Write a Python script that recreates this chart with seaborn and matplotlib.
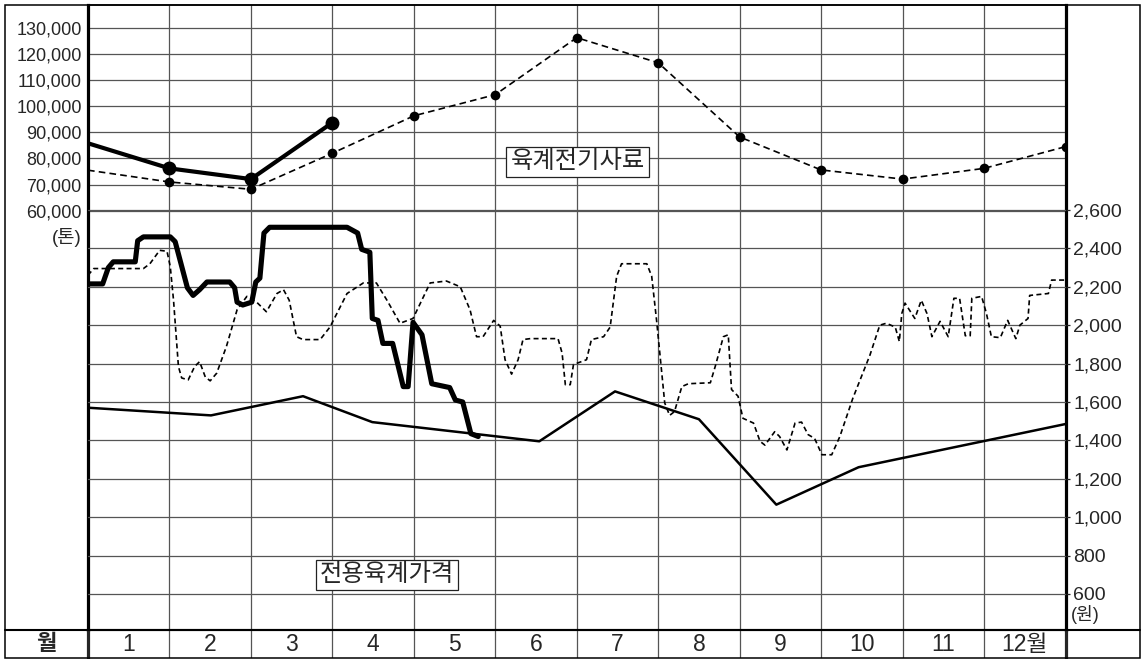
import numpy as np
import pandas as pd
import matplotlib.pyplot as plt
from matplotlib.patches import Rectangle
from matplotlib.lines import Line2D
import seaborn as sns

sns.set_style("white")
plt.rcParams["font.family"] = ["Liberation Sans", "Noto Sans CJK KR"]

# 육계전기사료 (톤) - month boundaries 0..12
feed_x = list(range(13))
feed_prev = [75500, 71000, 68200, 82000, 96300, 104400, 126200, 116600,
             88200, 75600, 72100, 76200, 84500]
feed_cur_x = [0, 1, 2, 3]
feed_cur = [85800, 76200, 72100, 93700]

# 전용육계가격 (원) - this year (thick)
price_cur_x = [0.00, 0.18, 0.25, 0.31, 0.58, 0.61, 0.68, 1.01, 1.07, 1.22,
               1.29, 1.37, 1.46, 1.74, 1.80, 1.83, 1.90, 2.01, 2.06, 2.11,
               2.16, 2.23, 3.18, 3.31, 3.36, 3.46, 3.49, 3.56, 3.62, 3.74,
               3.87, 3.93, 3.99, 4.10, 4.22, 4.44, 4.51, 4.60, 4.70, 4.79]
price_cur = [2215, 2215, 2300, 2330, 2330, 2440, 2460, 2460, 2435, 2195,
             2155, 2185, 2225, 2225, 2195, 2120, 2105, 2120, 2225, 2245,
             2480, 2510, 2510, 2480, 2395, 2380, 2035, 2025, 1905, 1905,
             1680, 1680, 2015, 1950, 1695, 1675, 1610, 1600, 1435, 1420]

# last year (dashed)
price_prev_x = [0.00, 0.07, 0.68, 0.76, 0.88, 0.97, 1.01, 1.05, 1.11, 1.15,
                1.23, 1.31, 1.37, 1.44, 1.50, 1.58, 1.70, 1.83, 1.95, 2.07,
                2.19, 2.32, 2.40, 2.47, 2.56, 2.64, 2.85, 2.97, 3.18, 3.38,
                3.54, 3.67, 3.83, 3.99, 4.20, 4.40, 4.57, 4.69, 4.77, 4.85,
                4.98, 5.06, 5.12, 5.20, 5.28, 5.34, 5.43, 5.77, 5.82, 5.86,
                5.92, 5.96, 6.12, 6.18, 6.33, 6.41, 6.49, 6.55, 6.86, 6.92,
                6.98, 7.08, 7.14, 7.20, 7.29, 7.37, 7.64, 7.70, 7.80, 7.86,
                7.90, 7.98, 8.04, 8.17, 8.25, 8.31, 8.43, 8.49, 8.58, 8.68,
                8.76, 8.84, 8.92, 9.01, 9.13, 9.23, 9.39, 9.60, 9.72, 9.80,
                9.91, 9.96, 9.99, 10.03, 10.15, 10.23, 10.30, 10.36, 10.46, 10.56,
                10.63, 10.70, 10.77, 10.83, 10.85, 10.97, 11.03, 11.09, 11.20, 11.29,
                11.39, 11.44, 11.54, 11.56, 11.79, 11.83, 11.97, 12.00]
price_prev = [2260, 2295, 2295, 2320, 2390, 2385, 2305, 2130, 1785, 1725,
              1715, 1785, 1810, 1730, 1710, 1750, 1890, 2080, 2150, 2120,
              2070, 2165, 2185, 2130, 1940, 1925, 1925, 1990, 2165, 2220,
              2220, 2130, 2010, 2035, 2220, 2230, 2200, 2080, 1940, 1940,
              2025, 1995, 1820, 1745, 1820, 1925, 1930, 1930, 1855, 1690,
              1690, 1795, 1820, 1925, 1940, 1990, 2255, 2320, 2320, 2255,
              2025, 1595, 1530, 1550, 1680, 1695, 1700, 1785, 1940, 1950,
              1665, 1630, 1515, 1490, 1395, 1375, 1445, 1420, 1350, 1490,
              1495, 1430, 1410, 1325, 1325, 1420, 1620, 1845, 2000, 2010,
              1990, 1915, 2060, 2115, 2035, 2130, 2060, 1940, 2020, 1940,
              2140, 2140, 1945, 1945, 2140, 2150, 2060, 1940, 1935, 2025,
              1930, 2000, 2035, 2155, 2165, 2235, 2235, 2235]

# thin solid line
base_x = [0, 1.51, 2.64, 3.49, 5.54, 6.47, 7.50, 8.45, 9.46, 12.0]
base_y = [1570, 1530, 1630, 1495, 1395, 1655, 1510, 1065, 1260, 1485]

tons_ticks = [60000, 70000, 80000, 90000, 100000, 110000, 120000, 130000]
won_ticks = [600, 800, 1000, 1200, 1400, 1600, 1800, 2000, 2200, 2400, 2600]
month_labels = ["1", "2", "3", "4", "5", "6", "7", "8", "9", "10", "11", "12월"]

W, H = 1141, 659
fig = plt.figure(figsize=(W / 100, H / 100), dpi=100)
ax = fig.add_axes([88 / W, 1 - 630 / H, 977.5 / W, 625 / H])
ax2 = ax.twinx()

grid_col = "#555555"
ax.set_xlim(0, 12)
ax.set_ylim(-100400, 138700)
ax2.set_ylim(412, 3668)

ax.set_xticks(range(1, 12))
ax.set_yticks(tons_ticks)
ax.set_yticklabels([f"{v:,}" for v in tons_ticks])
ax.tick_params(axis="x", length=0, labelbottom=False)
ax.tick_params(axis="y", length=0, pad=4.5, labelsize=13)
ax.grid(True, color=grid_col, lw=0.9)

ax2.set_yticks(won_ticks)
ax2.set_yticklabels([f"{v:,}" for v in won_ticks])
ax2.tick_params(axis="y", length=3, width=0.9, pad=2.5, labelsize=14)
ax2.grid(True, axis="y", color=grid_col, lw=0.9)

for s in ax2.spines.values():
    s.set_visible(False)
ax.spines["left"].set_linewidth(2.3)
ax.spines["right"].set_linewidth(2.3)
ax.spines["top"].set_linewidth(1.1)
ax.spines["bottom"].set_linewidth(1.5)
for s in ax.spines.values():
    s.set_color("k")

# feed lines
sns.lineplot(x=feed_x, y=feed_prev, ax=ax, color="k", lw=1.2,
             linestyle=(0, (4, 2.5)), marker="o", markersize=7, mew=0,
             markevery=list(range(1, 13)))
sns.lineplot(x=feed_cur_x, y=feed_cur, ax=ax, color="k", lw=3,
             marker="o", markersize=10, mew=0, markevery=[1, 2, 3])

# price lines
sns.lineplot(x=price_prev_x, y=price_prev, ax=ax2, color="k", lw=1.2,
             linestyle=(0, (3, 2)))
sns.lineplot(x=price_cur_x, y=price_cur, ax=ax2, color="k", lw=3.7,
             solid_joinstyle="round", solid_capstyle="round")
sns.lineplot(x=base_x, y=base_y, ax=ax2, color="k", lw=1.8)

ax.set_xlabel("")
ax.set_ylabel("")
ax2.set_ylabel("")

box = dict(boxstyle="square,pad=0.17", fc="white", ec="#222222", lw=0.9)
ax.text(0.501, 0.749, "육계전기사료", transform=ax.transAxes, ha="center",
        va="center", fontsize=17.5, bbox=box, zorder=10)
ax.text(0.306, 0.088, "전용육계가격", transform=ax.transAxes, ha="center",
        va="center", fontsize=17.5, bbox=box, zorder=10)

fig.text(82 / W, 1 - 237 / H, "(톤)", ha="right", va="center", fontsize=13.5)
fig.text(1071 / W, 1 - 615 / H, "(원)", ha="left", va="center", fontsize=13)

# month row
axm = fig.add_axes([88 / W, 1 - 657.5 / H, 977.5 / W, 27.5 / H])
axm.set_xlim(0, 12)
axm.set_ylim(0, 1)
axm.set_xticks(range(1, 12))
axm.set_yticks([])
axm.tick_params(axis="x", length=0, labelbottom=False)
axm.grid(True, axis="x", color=grid_col, lw=0.9)
axm.patch.set_alpha(0)
for k in ["top", "bottom"]:
    axm.spines[k].set_visible(False)
axm.spines["left"].set_linewidth(2.3)
axm.spines["right"].set_linewidth(2.3)
for i, lab in enumerate(month_labels):
    axm.text(i + 0.5, 0.47, lab, ha="center", va="center", fontsize=16.5)

fig.text(46 / W, 1 - 644 / H, "월", ha="center", va="center", fontsize=16,
         fontweight="bold")

fig.add_artist(Rectangle((4.5 / W, 1 - 657.5 / H), 1135.5 / W, 653 / H,
                         transform=fig.transFigure, fill=False, lw=1.1, ec="k"))
fig.add_artist(Line2D([4.5 / W, 1140 / W], [1 - 630 / H, 1 - 630 / H],
                      transform=fig.transFigure, lw=1.5, color="k"))

fig.savefig("out.png", dpi=100)
